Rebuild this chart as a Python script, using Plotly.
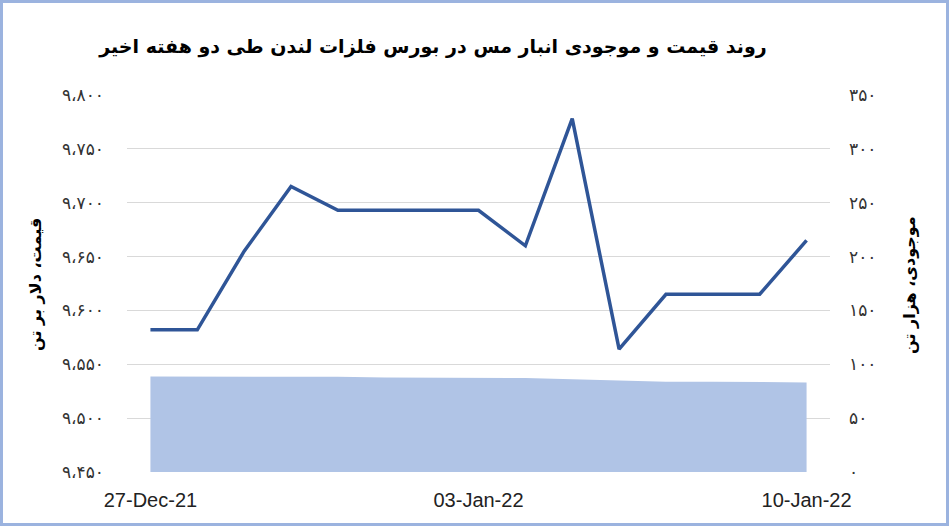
import plotly.graph_objects as go

# ---- data ----
dates = ["27-Dec-21", "28-Dec-21", "29-Dec-21", "30-Dec-21", "31-Dec-21",
         "01-Jan-22", "02-Jan-22", "03-Jan-22", "04-Jan-22", "05-Jan-22",
         "06-Jan-22", "07-Jan-22", "08-Jan-22", "09-Jan-22", "10-Jan-22"]
price = [9582, 9582, 9655, 9715, 9693, 9693, 9693, 9693, 9660, 9778,
         9564, 9615, 9615, 9615, 9665]
stock = [88.7, 88.7, 88.7, 88.6, 88.4, 87.8, 87.5, 87.5, 87.2, 86.0,
         84.7, 83.8, 83.8, 83.8, 83.2]

price_ticks = [9450, 9500, 9550, 9600, 9650, 9700, 9750, 9800]
price_ticktext = ["۹،۴۵۰", "۹،۵۰۰", "۹،۵۵۰", "۹،۶۰۰", "۹،۶۵۰", "۹،۷۰۰", "۹،۷۵۰", "۹،۸۰۰"]
stock_ticks = [0, 50, 100, 150, 200, 250, 300, 350]
stock_ticktext = ["۰", "۵۰", "۱۰۰", "۱۵۰", "۲۰۰", "۲۵۰", "۳۰۰", "۳۵۰"]
x_tick_labels = ["27-Dec-21", "03-Jan-22", "10-Jan-22"]

title_text = "روند قیمت و موجودی انبار مس در بورس فلزات لندن طی دو هفته اخیر"
left_title = "قیمت، دلار بر تن"
right_title = "موجودی، هزار تن"

# ---- layout geometry ----
W, H = 949, 526
L, R, T, B = 127, 830, 95, 472
pw, ph = R - L, B - T

def px_x(p):
    return (p - L) / pw

def px_y(p):
    return (B - p) / ph

FA = "DejaVu Sans"

fig = go.Figure()
fig.add_trace(go.Scatter(
    x=dates, y=stock, yaxis="y", mode="lines",
    line=dict(width=0, color="#B0C4E6"), fill="tozeroy",
    fillcolor="#B0C4E6", hoverinfo="skip", showlegend=False))
fig.add_trace(go.Scatter(
    x=dates, y=price, yaxis="y2", mode="lines",
    line=dict(width=3.5, color="#2F5597"), showlegend=False))

fig.update_layout(
    width=W, height=H,
    margin=dict(l=L, r=W - R, t=T, b=H - B, pad=0, autoexpand=False),
    paper_bgcolor="white", plot_bgcolor="white",
    title=dict(text="<b>" + title_text + "</b>", x=433 / W, xanchor="center",
               y=1 - 46 / H, yanchor="middle",
               font=dict(family=FA, size=19, color="black")),
    xaxis=dict(type="category", range=[-0.5, 14.5], automargin=False,
               tickvals=[dates[0], dates[7], dates[14]], ticktext=x_tick_labels,
               showgrid=False, zeroline=False, showline=False, ticks="",
               ticklabelstandoff=14,
               tickfont=dict(family="Liberation Sans", size=20, color="#222222")),
    yaxis=dict(side="right", range=[0, 350], tickvals=stock_ticks, automargin=False,
               ticktext=stock_ticktext, showgrid=True, gridcolor="#D9D9D9",
               gridwidth=1, zeroline=False, showline=False, ticks="",
               ticklabelstandoff=18,
               tickfont=dict(family=FA, size=17, color="#333333")),
    yaxis2=dict(side="left", overlaying="y", range=[9450, 9800], automargin=False,
                tickvals=price_ticks, ticktext=price_ticktext, showgrid=False,
                zeroline=False, showline=False, ticks="",
                ticklabelstandoff=22,
                tickfont=dict(family=FA, size=17, color="#333333")),
    annotations=[
        dict(text="<b>" + left_title + "</b>", xref="paper", yref="paper",
             x=px_x(35), y=px_y(285), textangle=-90, showarrow=False,
             xanchor="center", yanchor="middle",
             font=dict(family=FA, size=16, color="black")),
        dict(text="<b>" + right_title + "</b>", xref="paper", yref="paper",
             x=px_x(909), y=px_y(285), textangle=-90, showarrow=False,
             xanchor="center", yanchor="middle",
             font=dict(family=FA, size=16, color="black")),
    ],
    shapes=[dict(type="rect", xref="paper", yref="paper",
                 x0=px_x(1.5), x1=px_x(947.5), y0=px_y(524.5), y1=px_y(1.5),
                 line=dict(color="#9BB3DF", width=3), layer="above")],
)

fig.write_html("out.html", config={"displayModeBar": False},
               post_script="document.body.style.margin='0';document.body.style.overflow='hidden';")
